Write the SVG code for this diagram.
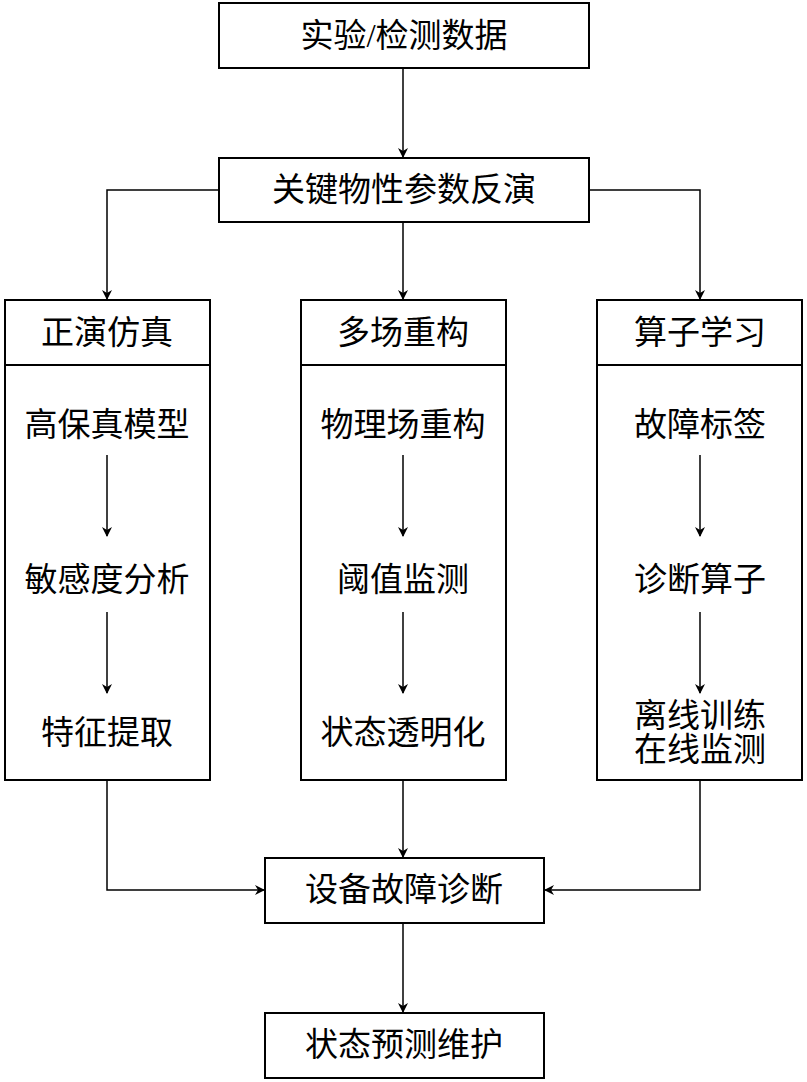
<svg xmlns="http://www.w3.org/2000/svg" width="807" height="1082" viewBox="0 0 807 1082">
<defs><marker id="a" markerWidth="10" markerHeight="10" refX="9" refY="5" orient="auto" markerUnits="userSpaceOnUse"><path d="M0,0 L10,5 L0,10 L3,5 Z" fill="#000"/></marker></defs>
<style>
rect{fill:#fff;stroke:#000;stroke-width:2}
text{font-family:"Liberation Serif","Noto Sans CJK SC",serif;font-size:33px;text-anchor:middle;dominant-baseline:central;fill:#000}
.c path,.c line{stroke:#000;stroke-width:1.5;fill:none}
</style>
<rect width="807" height="1082" style="stroke:none"/>
<g id="n1"><rect x="219" y="3" width="370" height="65"/><text x="404" y="36">实验/检测数据</text></g>
<g id="n2"><rect x="219" y="158" width="370" height="64"/><text x="404" y="190">关键物性参数反演</text></g>
<g id="col1"><rect x="5" y="300" width="205" height="480"/><line x1="5" y1="365" x2="210" y2="365" stroke="#000" stroke-width="2"/>
<text x="107" y="333">正演仿真</text><text x="107" y="425">高保真模型</text><text x="107" y="580">敏感度分析</text><text x="107" y="733">特征提取</text></g>
<g id="col2"><rect x="301" y="300" width="205" height="480"/><line x1="301" y1="365" x2="506" y2="365" stroke="#000" stroke-width="2"/>
<text x="403" y="333">多场重构</text><text x="403" y="425">物理场重构</text><text x="403" y="580">阈值监测</text><text x="403" y="733">状态透明化</text></g>
<g id="col3"><rect x="597" y="300" width="205" height="480"/><line x1="597" y1="365" x2="802" y2="365" stroke="#000" stroke-width="2"/>
<text x="700" y="333">算子学习</text><text x="700" y="425">故障标签</text><text x="700" y="580">诊断算子</text><text x="700" y="716">离线训练</text><text x="700" y="750">在线监测</text></g>
<g id="n3"><rect x="265" y="858" width="279" height="65"/><text x="404" y="890">设备故障诊断</text></g>
<g id="n4"><rect x="265" y="1013" width="279" height="65"/><text x="404" y="1045">状态预测维护</text></g>
<g class="c">
<line x1="403" y1="68" x2="403" y2="157" marker-end="url(#a)"/>
<path d="M219,190 H107 V299" marker-end="url(#a)"/>
<path d="M589,190 H700 V299" marker-end="url(#a)"/>
<line x1="403" y1="222" x2="403" y2="299" marker-end="url(#a)"/>
<line x1="107" y1="455" x2="107" y2="536" marker-end="url(#a)"/>
<line x1="107" y1="612" x2="107" y2="693" marker-end="url(#a)"/>
<line x1="403" y1="455" x2="403" y2="536" marker-end="url(#a)"/>
<line x1="403" y1="612" x2="403" y2="693" marker-end="url(#a)"/>
<line x1="700" y1="455" x2="700" y2="536" marker-end="url(#a)"/>
<line x1="700" y1="612" x2="700" y2="693" marker-end="url(#a)"/>
<path d="M107,780 V890 H264" marker-end="url(#a)"/>
<path d="M700,780 V890 H545" marker-end="url(#a)"/>
<line x1="403" y1="780" x2="403" y2="857" marker-end="url(#a)"/>
<line x1="403" y1="923" x2="403" y2="1012" marker-end="url(#a)"/>
</g>
</svg>
